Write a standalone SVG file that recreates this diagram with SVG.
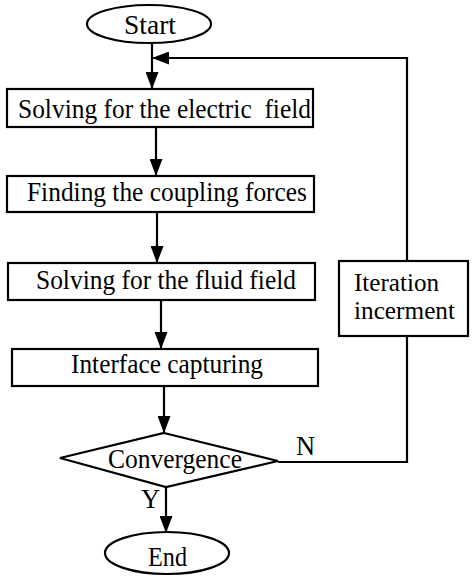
<svg xmlns="http://www.w3.org/2000/svg" width="474" height="581" viewBox="0 0 474 581">
<defs>
<style>
.box{fill:#fff;stroke:#000;stroke-width:2.2}
.ln{fill:none;stroke:#000;stroke-width:2.2}
text{font-family:"Liberation Serif","Times New Roman",serif;font-size:26.5px;fill:#000}
.sm{font-size:24.5px}
</style>
<marker id="ah" markerUnits="userSpaceOnUse" markerWidth="17" markerHeight="13" refX="16" refY="6.5" orient="auto">
<path d="M0,0 L17,6.5 L0,13 Z" fill="#000"/>
</marker>
</defs>
<rect width="474" height="581" fill="#fff"/>
<g id="connectors">
<line class="ln" x1="152" y1="43" x2="152" y2="88" marker-end="url(#ah)"/>
<polyline class="ln" points="407,261 407,58 153,58" marker-end="url(#ah)"/>
<line class="ln" x1="156" y1="127" x2="156" y2="175" marker-end="url(#ah)"/>
<line class="ln" x1="157" y1="212" x2="157" y2="262" marker-end="url(#ah)"/>
<line class="ln" x1="161" y1="300" x2="161" y2="348" marker-end="url(#ah)"/>
<line class="ln" x1="164" y1="386" x2="164" y2="432" marker-end="url(#ah)"/>
<polyline class="ln" points="278,462 407,462 407,336"/>
<line class="ln" x1="166" y1="487" x2="166" y2="532" marker-end="url(#ah)"/>
<text x="296" y="455">N</text>
<text x="141" y="508">Y</text>
</g>
<g id="start">
<ellipse class="box" cx="149" cy="24" rx="62" ry="19"/>
<text x="124" y="34" textLength="52" lengthAdjust="spacingAndGlyphs">Start</text>
</g>
<g id="electric">
<rect class="box" x="7" y="89" width="306" height="38"/>
<text x="18" y="118" xml:space="preserve" textLength="293" lengthAdjust="spacingAndGlyphs">Solving for the electric  field</text>
</g>
<g id="coupling">
<rect class="box" x="7" y="176" width="307" height="36"/>
<text x="27" y="201" textLength="280" lengthAdjust="spacingAndGlyphs">Finding the coupling forces</text>
</g>
<g id="fluid">
<rect class="box" x="8" y="263" width="307" height="37"/>
<text x="36" y="289" textLength="260" lengthAdjust="spacingAndGlyphs">Solving for the fluid field</text>
</g>
<g id="interface">
<rect class="box" x="12" y="349" width="306" height="37"/>
<text x="71" y="373" textLength="192" lengthAdjust="spacingAndGlyphs">Interface capturing</text>
</g>
<g id="convergence">
<polygon class="box" points="164,433 278,461 166,487 60,458"/>
<text x="108" y="468" textLength="134" lengthAdjust="spacingAndGlyphs">Convergence</text>
</g>
<g id="iteration">
<rect class="box" x="339" y="261" width="129" height="75"/>
<text class="sm" x="354" y="291" textLength="85" lengthAdjust="spacingAndGlyphs">Iteration</text>
<text class="sm" x="354" y="319" textLength="101" lengthAdjust="spacingAndGlyphs">incerment</text>
</g>
<g id="end">
<ellipse class="box" cx="167" cy="553" rx="62" ry="21"/>
<text x="148" y="566" textLength="39" lengthAdjust="spacingAndGlyphs">End</text>
</g>
</svg>
